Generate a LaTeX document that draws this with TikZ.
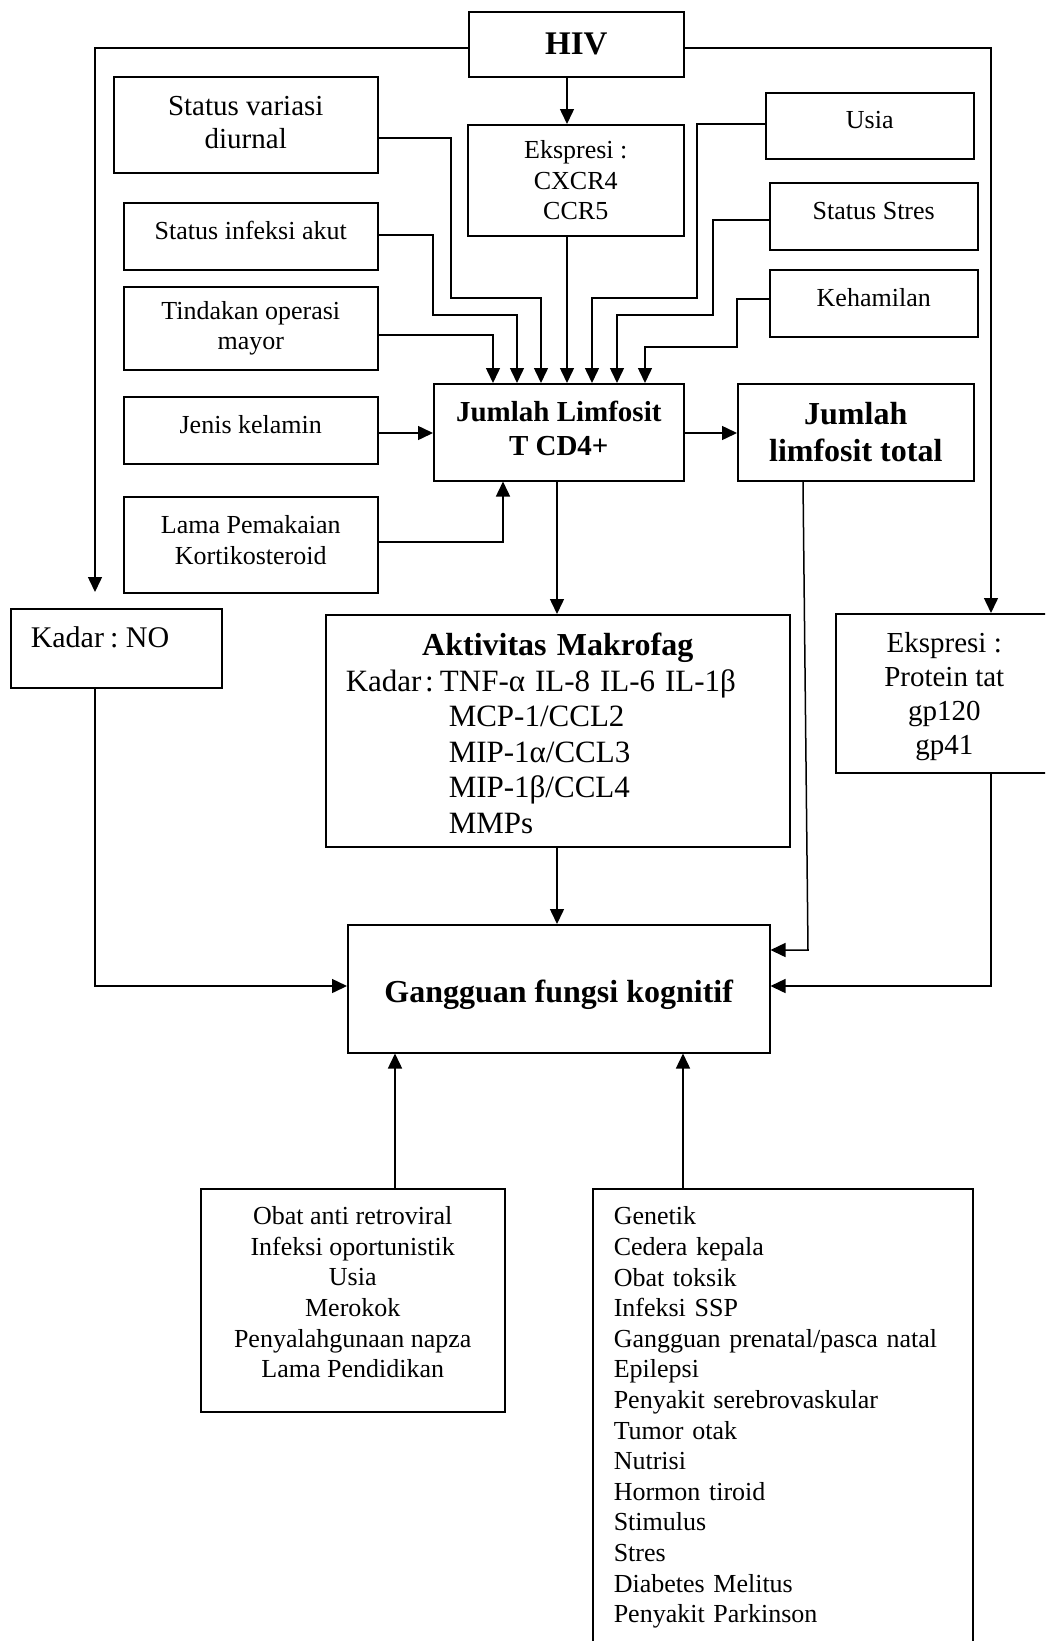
\documentclass[tikz,border=0pt]{standalone}
\usepackage{fontspec}
\setmainfont{Liberation Serif}
\usetikzlibrary{arrows.meta}
\newcommand{\fsz}[2]{\fontsize{#1}{#2}\selectfont}
\frenchspacing
\begin{document}
\begin{tikzpicture}[x=1pt,y=-1pt,
  box/.style={draw, line width=1.5pt, inner sep=0pt, anchor=north west, align=center, font=\fsz{26}{30.6}},
  arr/.style={line width=1.5pt, -{Triangle[length=15pt,width=14pt]}},
  one/.style={text height=18pt, text depth=12pt}]
\useasboundingbox (0,0) rectangle (1045,1641);
\fill[white] (0,0) rectangle (1045,1641);
\clip (0,0) rectangle (1045,1641);

% boxes
\node[box, minimum width=215pt, minimum height=65pt, font=\bfseries\fsz{33}{38}] (hiv) at (468,11) {HIV};
\node[box, minimum width=264pt, minimum height=96pt, font=\fsz{29}{33}] (svd) at (113,76) {Status variasi\\diurnal\rule[-4pt]{0pt}{0pt}};
\node[box, minimum width=216pt, minimum height=111pt, font=\fsz{26}{30.5}] (cx) at (467,124) {Ekspresi :\\CXCR4\\CCR5};
\node[box, one, minimum width=208pt, minimum height=66pt] (usia) at (765,92) {Usia};
\node[box, one, minimum width=254pt, minimum height=67pt] (sia) at (123,202) {Status infeksi akut};
\node[box, one, minimum width=208pt, minimum height=67pt] (stres) at (769,182) {Status Stres};
\node[box, minimum width=254pt, minimum height=83pt] (tom) at (123,286) {Tindakan operasi\\mayor};
\node[box, one, minimum width=208pt, minimum height=67pt] (hamil) at (769,269) {Kehamilan};
\node[box, minimum width=250pt, minimum height=97pt, font=\bfseries\fsz{29}{34}] (cd4) at (433,383) {Jumlah Limfosit\\T CD4+\rule[-8pt]{0pt}{0pt}};
\node[box, minimum width=236pt, minimum height=97pt, font=\bfseries\fsz{32}{37}] (ltot) at (737,383) {Jumlah\\limfosit total};
\node[box, one, minimum width=254pt, minimum height=67pt] (jk) at (123,396) {Jenis kelamin};
\node[box, minimum width=254pt, minimum height=96pt] (lpk) at (123,496) {Lama Pemakaian\\Kortikosteroid\rule[-10pt]{0pt}{0pt}};
\node[box, minimum width=211pt, minimum height=79pt, align=left, text width=171pt, inner xsep=20pt, text height=20pt, text depth=21pt, font=\fsz{30}{34.5}] (no) at (10,608) {Kadar\hspace{0.2em}:\hspace{0.25em}NO};
\node[box, minimum width=464pt, minimum height=232pt, align=left, text width=424pt, inner xsep=20pt, font=\fsz{31}{35.5}] (mak) at (325,614)
  {\noindent\makebox[424pt][c]{\bfseries\fsz{32}{35.5}\rule{0pt}{28pt}Aktivitas Makrofag}\\
   Kadar\hspace{0.12em}:\hspace{0.2em}TNF-α\hspace{0.32em}IL-8\hspace{0.32em}IL-6\hspace{0.32em}IL-1β\\
   \hspace*{103pt}MCP-1/CCL2\\
   \hspace*{103pt}MIP-1α/CCL3\\
   \hspace*{103pt}MIP-1β/CCL4\\
   \hspace*{103pt}MMPs};
\node[box, minimum width=217pt, minimum height=159pt, font=\fsz{29}{34}] (tat) at (835,613) {\rule{0pt}{26pt}Ekspresi :\\Protein tat\\gp120\\gp41};
\node[box, minimum width=422pt, minimum height=128pt, font=\bfseries\fsz{32}{36}] (gfk) at (347,924) {\rule{0pt}{34pt}Gangguan fungsi kognitif};
\node[box, minimum width=304pt, minimum height=223pt] (obat) at (200,1188) {Obat anti retroviral\\Infeksi oportunistik\\Usia\\Merokok\\Penyalahgunaan napza\\Lama Pendidikan\rule[-16pt]{0pt}{0pt}};
\node[box, minimum width=380pt, align=left, text width=338pt, inner xsep=21pt, inner ysep=18pt] (gen) at (592,1188)
  {\noindent Genetik\\Cedera kepala\\Obat toksik\\Infeksi SSP\\Gangguan prenatal/pasca natal\\Epilepsi\\Penyakit serebrovaskular\\Tumor otak\\Nutrisi\\Hormon tiroid\\Stimulus\\Stres\\Diabetes Melitus\\Penyakit Parkinson};

% connectors
\coordinate (noin) at (95,592);
\draw[arr] (hiv.west |- 0,48) -| (noin);
\draw[arr] (hiv.east |- 0,48) -| (tat.north -| 991,0);
\draw[arr] (hiv.south -| 567,0) -- (cx.north -| 567,0);

\draw[arr] (tom.east |- 0,335) -| (cd4.north -| 493,0);
\draw[arr] (sia.east |- 0,235) -| (433,315) -| (cd4.north -| 517,0);
\draw[arr] (svd.east |- 0,138) -| (451,298) -| (cd4.north -| 541,0);
\draw[arr] (cx.south -| 567,0) -- (cd4.north -| 567,0);
\draw[arr] (usia.west |- 0,124) -| (697,298) -| (cd4.north -| 592,0);
\draw[arr] (stres.west |- 0,220) -| (713,315) -| (cd4.north -| 617,0);
\draw[arr] (hamil.west |- 0,299) -| (737,347) -| (cd4.north -| 645,0);

\draw[arr] (jk.east |- 0,433) -- (cd4.west |- 0,433);
\draw[arr] (cd4.east |- 0,433) -- (ltot.west |- 0,433);
\draw[arr] (lpk.east |- 0,542) -| (cd4.south -| 503,0);
\draw[arr] (cd4.south -| 557,0) -- (mak.north -| 557,0);
\draw[arr] (mak.south -| 557,0) -- (gfk.north -| 557,0);
\draw[arr] (ltot.south -| 803,0) -- (808,950) -- (gfk.east |- 0,950);
\draw[arr] (no.south -| 95,0) |- (gfk.west |- 0,986);
\draw[arr] (tat.south -| 991,0) |- (gfk.east |- 0,986);
\draw[arr] (obat.north -| 395,0) -- (gfk.south -| 395,0);
\draw[arr] (gen.north -| 683,0) -- (gfk.south -| 683,0);
\end{tikzpicture}
\end{document}
